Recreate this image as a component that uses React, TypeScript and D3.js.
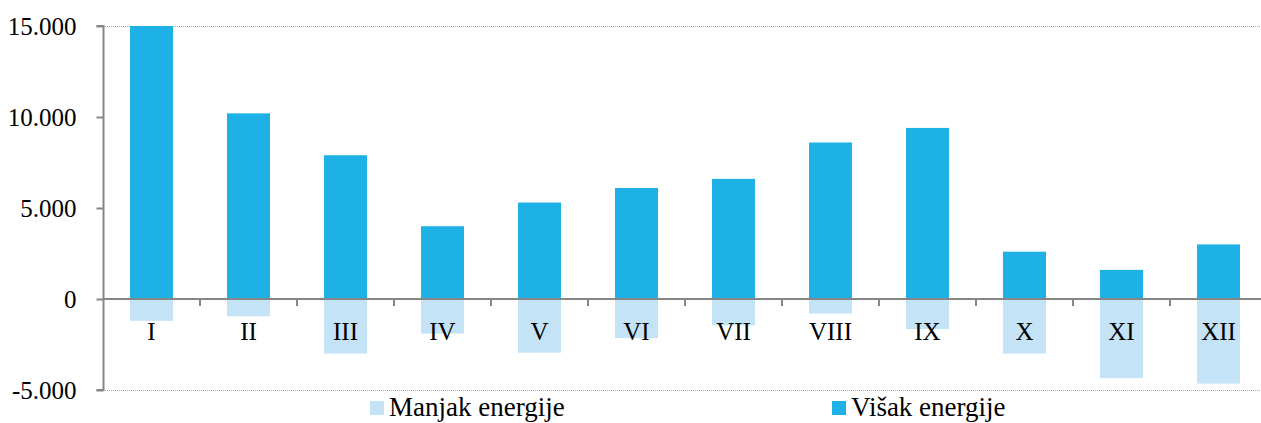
import React, { useEffect, useRef } from 'react';
import * as d3 from 'd3';

const months = ['I', 'II', 'III', 'IV', 'V', 'VI', 'VII', 'VIII', 'IX', 'X', 'XI', 'XII'];
const visak = [15000, 10200, 7900, 4000, 5300, 6100, 6600, 8600, 9400, 2600, 1600, 3000];
const manjak = [-1200, -950, -3000, -1900, -2950, -2150, -1450, -800, -1650, -3000, -4350, -4650];
const yTicks = [15000, 10000, 5000, 0, -5000];

const colorVisak = '#1eb1e6';
const colorManjak = '#c5e3f6';
const axisColor = '#868686';
const font = '"Liberation Serif", "Times New Roman", serif';

function App() {
  const svgRef = useRef<SVGSVGElement>(null);

  useEffect(() => {
    const width = 1261;
    const height = 423;
    const svg = d3.select(svgRef.current);
    svg.selectAll('*').remove();
    svg.attr('width', width).attr('height', height);

    const x = d3.scaleBand<string>().domain(months).range([103, 1267]).paddingInner(0.557).paddingOuter(0.2785);
    const y = d3.scaleLinear().domain([-5000, 15000]).range([390, 26]);

    const fmt = (v: number) => d3.format(',')(v).replace(/,/g, '.').replace('−', '-');

    // okvir gore i dolje (točkasto)
    [15000, -5000].forEach(v => {
      svg.append('line')
        .attr('x1', 103).attr('x2', width)
        .attr('y1', y(v) + 0.5).attr('y2', y(v) + 0.5)
        .attr('stroke', '#a6a6a6').attr('stroke-width', 1).attr('stroke-dasharray', '1,1');
    });

    // stupci
    svg.selectAll('rect.manjak').data(manjak).enter().append('rect')
      .attr('class', 'manjak')
      .attr('x', (d, i) => x(months[i])!)
      .attr('width', x.bandwidth())
      .attr('y', y(0))
      .attr('height', d => y(d) - y(0))
      .attr('fill', colorManjak);

    svg.selectAll('rect.visak').data(visak).enter().append('rect')
      .attr('class', 'visak')
      .attr('x', (d, i) => x(months[i])!)
      .attr('width', x.bandwidth())
      .attr('y', d => y(d))
      .attr('height', d => y(0) - y(d))
      .attr('fill', colorVisak);

    // Y os
    const yAxis = svg.append('g')
      .attr('transform', 'translate(103.5,0)')
      .call(d3.axisLeft(y).tickValues(yTicks).tickSize(7).tickPadding(20).tickFormat(d => fmt(d as number)));
    yAxis.select('.domain').attr('stroke', axisColor).attr('stroke-width', 2).attr('d', `M-7,${y(15000)}H0V${y(-5000)}H-7`);
    yAxis.selectAll('.tick line').attr('stroke', axisColor).attr('stroke-width', 2);
    yAxis.selectAll('.tick text')
      .attr('fill', '#000').attr('font-family', font).attr('font-size', 25).attr('dy', '0.33em');

    // X os
    svg.append('line')
      .attr('x1', 103).attr('x2', width)
      .attr('y1', y(0)).attr('y2', y(0))
      .attr('stroke', axisColor).attr('stroke-width', 2);
    const step = x.step();
    d3.range(1, 13).forEach(i => {
      const tx = Math.round(103 + i * step);
      svg.append('line')
        .attr('x1', tx).attr('x2', tx)
        .attr('y1', y(0)).attr('y2', y(0) + 7)
        .attr('stroke', axisColor).attr('stroke-width', 2);
    });
    svg.selectAll('text.cat').data(months).enter().append('text')
      .attr('class', 'cat')
      .attr('x', d => x(d)! + x.bandwidth() / 2)
      .attr('y', 340)
      .attr('text-anchor', 'middle')
      .attr('font-family', font).attr('font-size', 25)
      .attr('fill', '#000')
      .text(d => d);

    // legenda
    const legend = [
      { label: 'Manjak energije', color: colorManjak, x: 370 },
      { label: 'Višak energije', color: colorVisak, x: 832 },
    ];
    legend.forEach(l => {
      svg.append('rect').attr('x', l.x).attr('y', 401).attr('width', 14).attr('height', 14).attr('fill', l.color);
      svg.append('text')
        .attr('x', l.x + 19).attr('y', 416)
        .attr('font-family', font).attr('font-size', 27)
        .attr('fill', '#000')
        .text(l.label);
    });
  }, []);

  return (
    <svg ref={svgRef} style={{ position: 'absolute', left: 0, top: 0, background: '#fff' }}></svg>
  );
}

export default App;
